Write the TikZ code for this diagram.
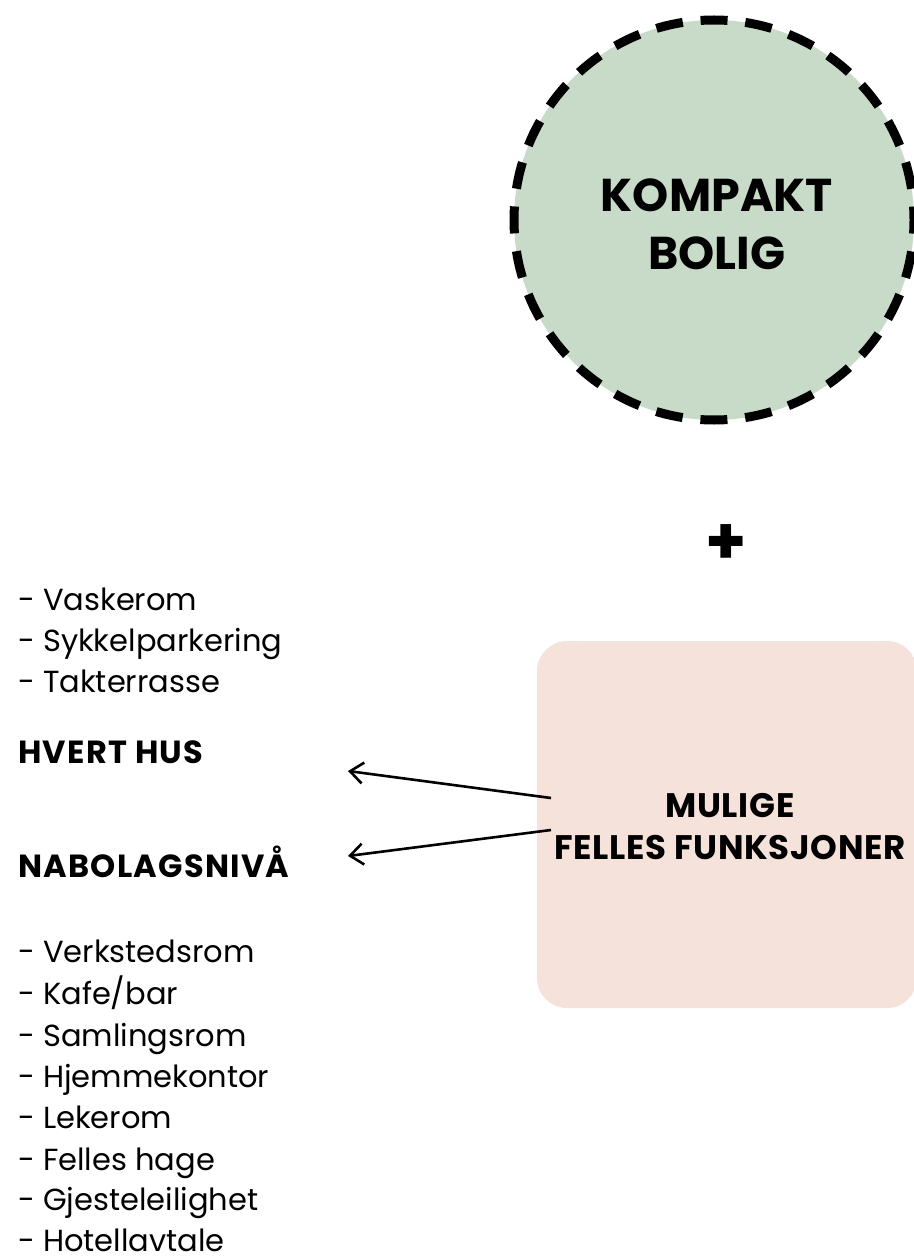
\documentclass[tikz,border=0pt]{standalone}
\usepackage{fontspec}
\setmainfont{Poppins}
\usetikzlibrary{arrows.meta}
\definecolor{boliggrønn}{RGB}{200,219,201}
\definecolor{fellesrosa}{RGB}{245,226,218}

\begin{document}
\begin{tikzpicture}[x=1pt, y=-1pt]
\tikzstyle{item}=[anchor=base west, inner sep=0pt, font=\fontsize{30.5}{36}\selectfont]
\tikzstyle{head}=[anchor=base west, inner sep=0pt,
                  font=\fontsize{32}{38}\selectfont\bfseries\addfontfeatures{LetterSpace=4}]
\tikzstyle{pil}=[line width=2.6pt, -{Straight Barb[length=13pt,width=21pt]}]
\useasboundingbox (0,0) rectangle (913,1257);
\node (bolig) at (714,220) [circle, draw, fill=boliggrønn, line width=9pt,
      dash pattern=on 27pt off 17.88pt, dash phase=13.5pt,
      minimum size=400pt, inner sep=0pt] {};
\node (boligtekst) at (717,224) [align=center, inner sep=0pt,
      font=\fontsize{46}{58}\selectfont\bfseries] {KOMPAKT\\BOLIG};
\node (pluss) at (726,545) {\fontsize{66}{66}\selectfont\bfseries +};
\node (felles) at (727,824.5) [rectangle, rounded corners=30pt, fill=fellesrosa,
      minimum width=380pt, minimum height=367pt] {};
\node (fellestekst) at (730,827) [align=center, inner sep=0pt,
      font=\fontsize{34}{42}\selectfont\bfseries\addfontfeatures{LetterSpace=2}] {MULIGE\\FELLES FUNKSJONER};
% nivaa
\node[head] (hus) at (18,763) {HVERT HUS};
\node[head] (nabo) at (18,877) {NABOLAGSNIVÅ};
\foreach \y/\t [count=\i] in {610/Vaskerom, 651/Sykkelparkering, 692/Takterrasse}
  {\node[item] (hus\i) at (18,\y) {- \t};}
\foreach \y/\t [count=\i] in {962/Verkstedsrom, 1004/{Kafe/bar}, 1046/Samlingsrom,
  1087/Hjemmekontor, 1128/Lekerom, 1170/Felles hage, 1210/Gjesteleilighet, 1251/Hotellavtale}
  {\node[item] (nabo\i) at (18,\y) {- \t};}
% piler
\coordinate (fra1) at (551,798);
\coordinate (til1) at (348,771);
\coordinate (fra2) at (551,830);
\coordinate (til2) at (348,856);
\foreach \a/\b in {fra1/til1, fra2/til2}{\draw[pil] (\a) -- (\b);}
\end{tikzpicture}
\end{document}
